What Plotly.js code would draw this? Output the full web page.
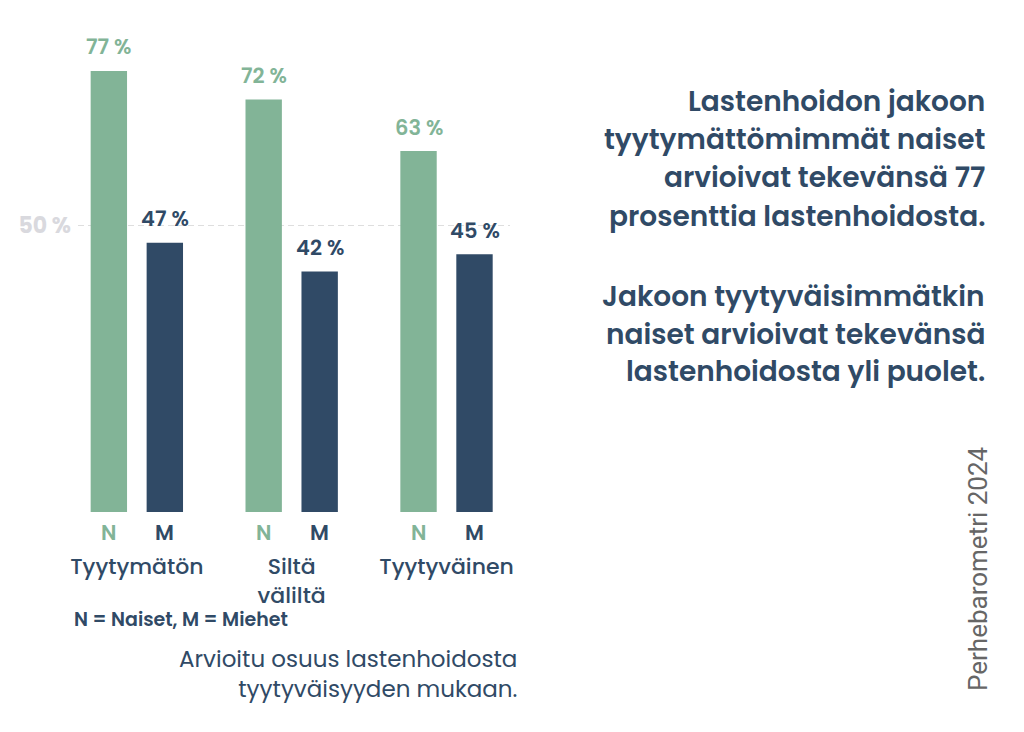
<!DOCTYPE html>
<html><head><meta charset="utf-8">
<script src="https://cdn.plot.ly/plotly-3.0.1.min.js"></script>
<style>html,body{margin:0;padding:0;background:#fff}</style>
</head><body><div id="chart" style="width:1024px;height:732px"></div>
<script>
const categories = ["Tyytymätön", "Siltä<br>väliltä", "Tyytyväinen"];
const seriesNames = ["N", "M"];
const naiset = [77, 72, 63];
const miehet = [47, 42, 45];
const tickValues = [50];
const tickLabels = ["50 %"];
const legendNote = "N = Naiset, M = Miehet";
const subtitleLines = ["Arvioitu osuus lastenhoidosta", "tyytyväisyyden mukaan."];
const para1 = ["Lastenhoidon jakoon", "tyytymättömimmät naiset", "arvioivat tekevänsä 77", "prosenttia lastenhoidosta."];
const para2 = ["Jakoon tyytyväisimmätkin", "naiset arvioivat tekevänsä", "lastenhoidosta yli puolet."];
const source = "Perhebarometri 2024";

const GREEN = "#82b497";
const NAVY = "#304a66";
const FONT = "Poppins, 'Open Sans', sans-serif";

const L = 78, R = 510, T = 56, B = 512;
const px = x => (x - L) / (R - L);
const py = y => (B - y) / (B - T);

const series = [naiset, miehet];
const colors = [GREEN, NAVY];
const shifts = [-28, 28];

const traces = series.map((vals, i) => ({
  type: "bar", x: categories, y: vals, name: seriesNames[i],
  marker: {color: colors[i], line: {width: 0}},
  hoverinfo: "skip"
}));

const ann = [];
series.forEach((vals, i) => {
  vals.forEach((v, j) => {
    ann.push({x: categories[j], y: v, xref: "x", yref: "y", text: v + " %",
      showarrow: false, xshift: shifts[i], yshift: 24, yanchor: "middle",
      font: {family: FONT, size: 21, weight: 600, color: colors[i]}});
    ann.push({x: categories[j], y: 0, xref: "x", yref: "y", text: seriesNames[i],
      showarrow: false, xshift: shifts[i], yshift: -20, yanchor: "middle",
      font: {family: FONT, size: 21, weight: 600, color: colors[i]}});
  });
});
ann.push({x: px(72), y: py(619), xref: "paper", yref: "paper", xanchor: "left", yanchor: "middle",
  text: legendNote, showarrow: false, font: {family: FONT, size: 19, weight: 600, color: NAVY}});
ann.push({x: px(519), y: py(674), xref: "paper", yref: "paper",
  xanchor: "right", yanchor: "middle", align: "right", text: subtitleLines.join("<br>"), showarrow: false,
  font: {family: FONT, size: 23, weight: 400, color: NAVY}});
para1.forEach((t, k) => ann.push({x: px(987), y: py(101 + 38.4 * k), xref: "paper", yref: "paper",
  xanchor: "right", yanchor: "middle", text: t, showarrow: false,
  font: {family: FONT, size: 28, weight: 600, color: NAVY}}));
para2.forEach((t, k) => ann.push({x: px(987), y: py(296 + 38 * k), xref: "paper", yref: "paper",
  xanchor: "right", yanchor: "middle", text: t, showarrow: false,
  font: {family: FONT, size: 28, weight: 600, color: NAVY}}));
ann.push({x: px(978), y: py(569), xref: "paper", yref: "paper", xanchor: "center", yanchor: "middle",
  text: source, textangle: -90, showarrow: false,
  font: {family: "Roboto, 'Liberation Sans', sans-serif", size: 26, weight: 400, color: "#666666"}});

const layout = {
  width: 1024, height: 732,
  margin: {l: L, r: 1024 - R, t: T, b: 732 - B, pad: 0},
  paper_bgcolor: "#ffffff", plot_bgcolor: "#ffffff",
  showlegend: false,
  barmode: "group", bargap: 0.277, bargroupgap: 0.35,
  font: {family: FONT, color: NAVY},
  xaxis: {type: "category", range: [-0.38, 2.41], showgrid: false, zeroline: false, showline: false,
    ticks: "", ticklabelstandoff: 39, fixedrange: true,
    tickfont: {family: FONT, size: 22, weight: 500, color: NAVY}},
  yaxis: {range: [0, 79.6], tickvals: tickValues, ticktext: tickLabels, showgrid: true,
    gridcolor: "#dedede", gridwidth: 1, griddash: "6px,4px", zeroline: false, showline: false,
    ticks: "", ticklabelstandoff: 6, fixedrange: true,
    tickfont: {family: FONT, size: 22, weight: 700, color: "#d9d9de"}},
  annotations: ann
};
Plotly.newPlot("chart", traces, layout, {displayModeBar: false, staticPlot: true});
</script></body></html>
